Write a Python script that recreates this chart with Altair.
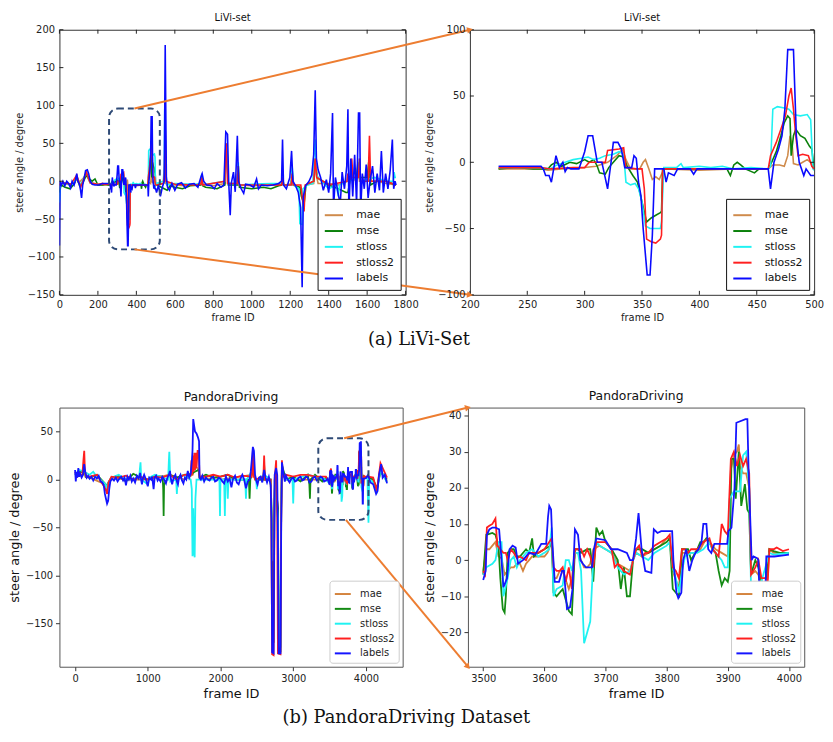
import altair as alt
import pandas as pd

SERIES = ["mae", "mse", "stloss", "stloss2", "labels"]
COLORS_TOP = ["#cf8b4c", "#0a800a", "#1ff2f2", "#ff1f1f", "#0a0aff"]
COLORS_BOT = ["#d4843e", "#138a13", "#1ff2f2", "#ff1f1f", "#1414ff"]
ORANGE = "#ed7d31"
NAVY = "#2e4a76"

# ---------------- LiVi-set, zoomed window (frames 225-500) ----------------
LZ_MAE = [(225,-5),(250,-5),(262,-5),(268,-6),(280,-5),(300,-4),(310,-3),(320,0),(328,5),(333,10),(336,2),(340,-5),(348,-5),(351,0),(353,2),(356,-5),(359,-13),(362,-11),(365,-13),(368,-7),(370,-5),(400,-6),(430,-5),(460,-5),(464,-2),(470,-2),(474,-3),(477,5),(479,20),(481,12),(482,-1),(486,-2),(490,0),(494,2),(497,0),(500,-3)]
LZ_MSE = [(225,-5),(240,-4),(255,-5),(268,-5),(271,-2),(275,0),(280,-3),(287,0),(293,-1),(300,2),(304,0),(308,2),(311,-3),(313,-8),(318,-9),(321,-4),(325,0),(330,5),(334,4),(337,-3),(342,-10),(346,-15),(350,-30),(354,-45),(358,-42),(362,-40),(366,-38),(367,-37),(368,-5),(380,-5),(400,-5),(424,-5),(427,-10),(430,-2),(433,0),(436,-2),(440,-5),(448,-8),(452,-5),(460,-5),(463,0),(467,8),(471,20),(474,30),(477,35),(479,33),(480,5),(482,20),(484,25),(488,20),(492,18),(496,12),(498,10),(500,-5)]
LZ_STLOSS = [(225,-4),(260,-4),(270,-5),(276,-2),(283,0),(290,2),(297,3),(303,4),(308,2),(313,3),(318,5),(325,6),(330,8),(334,6),(336,-15),(340,-17),(344,-16),(347,-20),(350,-30),(353,-48),(357,-50),(362,-50),(366,-50),(367,-45),(369,-4),(380,-4),(384,-1),(386,-4),(400,-3),(410,-4),(420,-3),(430,-5),(445,-4),(460,-5),(462,-3),(464,40),(468,42),(474,41),(478,40),(482,36),(488,35),(494,36),(497,32),(499,-5),(500,-6)]
LZ_STLOSS2 = [(225,-4),(262,-4),(270,-5),(290,-4),(300,-4),(304,0),(318,0),(320,9),(330,10),(334,11),(336,-4),(345,-5),(350,-5),(352,-20),(354,-58),(358,-60),(362,-61),(366,-58),(367,-55),(368,-5),(380,-5),(420,-5),(460,-5),(462,5),(467,15),(471,25),(475,35),(478,50),(480,56),(482,40),(484,20),(486,5),(490,6),(495,5),(498,-3),(500,-5)]
LZ_LABELS = [(225,-3),(262,-3),(264,-5),(266,-10),(269,-10),(271,-15),(275,5),(278,-4),(281,0),(283,-7),(285,-4),(288,-5),(295,-5),(297,0),(300,8),(303,20),(307,20),(309,10),(311,0),(315,0),(317,-8),(320,-20),(323,0),(325,15),(329,15),(332,10),(335,-4),(341,-4),(343,5),(345,3),(347,-15),(349,-25),(351,-50),(353,-70),(354.5,-85),(357,-85),(359,-55),(361,-5),(369,-5),(371,-15),(373,-8),(378,-10),(381,-5),(392,-5),(395,-9),(398,-5),(460,-5),(462,-20),(465,0),(469,10),(472,20),(474.5,40),(477,85),(482,85),(484.5,20),(487,0),(491,-10),(493,-5),(497,-10),(500,-10)]

# ---------------- LiVi-set, rest of the sequence ----------------
LP_MAE = [(0,-5),(20,-3),(50,-4),(80,-2),(90,5),(100,-2),(140,8),(160,-2),(200,-5),(224,-5)]
LP_MSE = [(0,-15),(8,-5),(30,-8),(55,-10),(75,-4),(90,5),(105,-6),(120,-3),(140,8),(155,3),(170,0),(185,3),(200,-5),(224,-5)]
LP_STLOSS = [(0,-28),(6,-5),(25,-2),(50,-5),(75,-3),(90,6),(110,-5),(140,12),(160,-2),(200,-4),(224,-4)]
LP_STLOSS2 = [(0,-5),(20,-2),(60,-4),(90,8),(110,-8),(140,12),(160,-2),(200,-4),(224,-3)]
LP_LABELS = [(0,-85),(3,0),(10,-5),(18,0),(28,-6),(38,0),(48,-3),(58,-9),(66,0),(76,-5),(84,2),(90,10),(96,0),(104,-4),(110,-12),(115,-22),(121,-5),(128,3),(136,14),(145,15),(152,10),(160,0),(170,-4),(185,-5),(205,-5),(224,-3)]

LA_MAE = [(505,-3),(540,-3),(546,-2),(550,25),(554,-3),(600,-5),(650,-6),(700,-5),(735,-4),(740,3),(745,-4),(800,-6),(860,-3),(866,30),(872,40),(878,-3),(920,-3),(925,10),(930,-5),(1000,-6),(1100,-5),(1155,-4),(1160,5),(1166,-5),(1205,-4),(1210,5),(1216,-5),(1255,-8),(1265,-25),(1272,-20),(1280,-5),(1322,-3),(1330,20),(1338,5),(1345,-3),(1400,-3),(1450,-5),(1500,0),(1515,5),(1525,0),(1545,5),(1552,20),(1560,0),(1610,0),(1615,10),(1622,0),(1650,0),(1700,-3),(1750,-5)]
LA_MSE = [(505,-5),(530,-8),(560,-12),(575,-6),(600,-8),(640,-10),(680,-6),(735,-5),(740,8),(745,-6),(760,-8),(820,-10),(860,-5),(866,35),(872,40),(878,-5),(925,-5),(930,20),(936,-8),(1000,-10),(1060,-8),(1100,-10),(1140,-6),(1155,-5),(1160,5),(1166,-5),(1205,-4),(1210,15),(1216,-5),(1250,-8),(1258,-20),(1272,-30),(1282,-5),(1322,0),(1330,30),(1340,5),(1400,-5),(1450,-10),(1490,-15),(1500,-15),(1510,0),(1520,5),(1545,5),(1552,25),(1560,5),(1600,5),(1610,30),(1618,-5),(1650,0),(1700,0),(1750,-5)]
LA_STLOSS = [(505,-3),(540,0),(545,20),(548,110),(552,20),(558,-5),(600,-3),(700,-4),(735,-3),(740,10),(745,-5),(860,0),(865,40),(870,50),(876,-3),(925,-3),(930,25),(935,-5),(1000,-4),(1100,-3),(1155,-3),(1160,10),(1166,-5),(1205,-5),(1210,20),(1216,-5),(1245,-10),(1250,-56),(1262,-57),(1266,-10),(1290,-5),(1318,-3),(1322,30),(1330,55),(1336,10),(1345,5),(1400,-10),(1440,-5),(1450,-20),(1456,-5),(1495,0),(1500,10),(1506,0),(1555,5),(1560,30),(1566,0),(1640,5),(1700,0),(1735,0),(1740,12),(1745,5),(1750,5)]
LA_STLOSS2 = [(505,-5),(540,-3),(546,10),(550,70),(554,0),(600,-4),(700,-5),(735,-4),(740,5),(745,-5),(860,0),(864,40),(868,50),(874,-3),(925,-3),(930,20),(935,-5),(1000,-5),(1100,-5),(1155,-5),(1160,5),(1166,-5),(1205,-5),(1210,10),(1216,-5),(1255,-5),(1262,-20),(1272,-40),(1278,-5),(1322,0),(1330,30),(1338,5),(1400,-5),(1495,0),(1500,10),(1506,0),(1515,5),(1520,30),(1526,5),(1555,5),(1560,30),(1566,0),(1605,0),(1612,60),(1618,0),(1700,0),(1750,-5)]
LA_LABELS = [(505,-15),(515,-5),(525,-20),(535,-8),(545,0),(550,180),(556,5),(562,-8),(572,-12),(585,-3),(600,-12),(615,-4),(635,-2),(655,-9),(675,-4),(700,-3),(720,-8),(735,5),(742,10),(750,0),(765,-5),(790,-6),(805,-10),(820,-3),(840,-8),(855,-5),(865,65),(874,62),(880,0),(888,-45),(894,-2),(905,12),(914,-14),(925,60),(931,0),(945,-10),(958,-16),(968,-4),(990,-5),(1010,-8),(1025,3),(1035,-10),(1050,-5),(1080,-6),(1110,-5),(1140,-3),(1155,0),(1160,55),(1165,-5),(1180,-10),(1198,5),(1207,40),(1214,0),(1228,-6),(1242,-15),(1254,-35),(1262,-140),(1268,-20),(1280,-6),(1298,0),(1312,8),(1322,35),(1330,120),(1336,30),(1345,15),(1358,5),(1372,-12),(1388,2),(1400,-15),(1410,10),(1420,90),(1425,-35),(1435,5),(1448,-15),(1460,-30),(1470,12),(1482,-10),(1494,20),(1500,95),(1505,-40),(1515,30),(1525,-20),(1535,35),(1545,-30),(1555,90),(1561,90),(1566,-40),(1575,10),(1585,-10),(1595,22),(1605,-22),(1615,0),(1628,20),(1640,-15),(1652,10),(1664,-12),(1674,40),(1684,-15),(1696,10),(1708,-10),(1720,15),(1731,55),(1738,-10),(1745,0),(1750,-5)]

# ---------------- PandoraDriving, zoomed window (frames 3500-4000) ----------------
PZ_MAE = [(3500,-3),(3505,3),(3510,3),(3515,4),(3520,5),(3525,1),(3530,0.5),(3535,-4),(3540,-3),(3545,-2),(3550,-2),(3555,-1),(3560,-1),(3565,-3),(3570,-1),(3575,0),(3580,1),(3590,1),(3600,1),(3605,2),(3612,5),(3615,-5),(3620,-5),(3625,-3),(3630,-3),(3640,-8),(3645,-5),(3650,2),(3655,2),(3660,0),(3665,-2),(3670,-2),(3675,-1),(3680,3),(3690,4),(3700,3),(3710,2),(3720,-1),(3730,-2),(3740,-3),(3745,0),(3750,2),(3760,1),(3770,2),(3780,3),(3790,4),(3800,6),(3805,6),(3810,-3),(3820,-8),(3825,2),(3835,2),(3845,2),(3855,3),(3865,6),(3870,5),(3875,4),(3880,3),(3890,2),(3900,1),(3905,25),(3910,29),(3915,30),(3918,32),(3920,26),(3925,24),(3930,24),(3935,20),(3938,-4),(3945,-3),(3950,-4),(3958,-10),(3965,-5),(3968,3),(3975,2),(4000,2)]
PZ_MSE = [(3500,-4),(3505,7),(3515,7.5),(3520,7),(3525,4),(3528,-5),(3532,-13.5),(3535,-14.5),(3537,-10),(3540,2),(3545,3),(3550,3),(3555,1),(3560,1),(3570,3),(3575,2),(3580,6),(3583,1),(3590,2),(3600,3),(3610,4),(3612,5),(3615,-9),(3620,-10),(3630,-8),(3640,-14),(3645,-15),(3650,3),(3655,3),(3660,2),(3670,3),(3675,3),(3680,-6),(3685,9),(3690,7),(3695,8),(3700,5),(3710,3),(3720,0),(3725,-8),(3730,-2),(3735,-10),(3740,-10),(3745,0),(3750,3),(3760,3),(3770,2),(3780,3),(3790,4),(3800,5),(3805,6),(3810,-8),(3820,-10),(3825,3),(3835,3),(3840,0),(3850,3),(3855,5),(3860,5),(3865,6),(3870,5),(3875,3),(3880,2),(3885,-3),(3890,-7),(3895,-5),(3900,-6),(3903,-3),(3906,28),(3910,28),(3913,17),(3918,30),(3922,15),(3928,21),(3932,14),(3935,13),(3938,-4),(3945,0),(3950,-2),(3958,-8),(3962,-6),(3968,3),(3975,2.5),(3985,2),(4000,2)]
PZ_STLOSS = [(3500,-4),(3505,-2),(3515,-1),(3520,0),(3525,5),(3530,5),(3533,-10),(3540,-5),(3545,0),(3550,1),(3555,-2),(3560,0),(3570,2),(3580,3),(3590,1),(3600,2),(3608,3),(3612,9),(3615,-10),(3620,-8),(3630,-7),(3635,0),(3640,0),(3645,-3),(3650,2),(3655,2),(3660,-3),(3665,-23),(3670,-20),(3675,-17),(3680,0),(3685,5),(3690,4),(3700,3),(3710,2),(3720,-2),(3730,-4),(3740,-3),(3745,0),(3750,2),(3760,1),(3770,0),(3780,2),(3790,3),(3800,4),(3805,5),(3810,-2),(3815,-5),(3820,-9),(3825,-3),(3830,1),(3840,2),(3850,2),(3860,3),(3870,5),(3875,3),(3880,2),(3890,0),(3895,-2),(3900,-2),(3903,17),(3910,19),(3920,19),(3925,29),(3930,30),(3935,20),(3938,-8),(3945,-10),(3950,-9),(3968,2),(3975,1.5),(4000,2)]
PZ_STLOSS2 = [(3500,-3),(3503,-4),(3506,9),(3510,9.5),(3515,10),(3520,11.5),(3523,4),(3528,3),(3533,2),(3537,2),(3540,0),(3545,3),(3550,2),(3555,0.5),(3560,1),(3570,0),(3575,2),(3580,2),(3590,2),(3600,3),(3606,4.5),(3612,6),(3615,-2),(3620,-3),(3625,-3),(3630,-2),(3635,-6),(3640,-2),(3645,-8),(3650,3),(3660,3),(3665,1),(3670,3),(3675,1),(3680,-2),(3685,5),(3700,5),(3710,3),(3715,-2),(3720,-1),(3730,-3),(3740,-4),(3745,0),(3750,3),(3755,4),(3760,1),(3765,2),(3770,2),(3775,3),(3780,4),(3790,5),(3800,6),(3805,7),(3810,-2),(3815,-3),(3820,-5),(3825,3),(3830,3),(3835,2),(3840,3),(3850,3),(3855,4),(3860,5),(3870,6),(3875,3),(3880,2),(3885,1),(3890,10),(3895,8),(3900,7),(3905,28),(3910,30),(3915,26),(3920,29),(3925,26),(3930,28),(3935,24),(3938,-4),(3945,-2),(3950,0),(3955,-5),(3962,-5),(3965,-7),(3968,3),(3975,3),(3980,3.5),(3990,2.5),(4000,3)]
PZ_LABELS = [(3500,-5.5),(3504,-3),(3506,7),(3510,8.5),(3515,9),(3520,9),(3526,8.5),(3530,0),(3533,-7.5),(3539,-5),(3543,3),(3548,4),(3553,3.5),(3557,-1),(3565,0),(3575,2),(3585,1.5),(3595,4.5),(3603,4.5),(3606,12),(3608,15),(3611,14),(3613,5),(3617,-6),(3624,-6),(3629,-3),(3632,-3),(3637,-13.5),(3642,-13),(3646,-8),(3650,8.5),(3655,7),(3659,0),(3663,-1),(3668,-2),(3673,-2),(3678,-2),(3681,3),(3685,6),(3700,5.5),(3709,3),(3720,3),(3735,2),(3740,0),(3745,0),(3750,6),(3754,13),(3759,3),(3765,-3),(3775,-3.5),(3779,8.5),(3785,7.5),(3791,8),(3809,8),(3811,0),(3816,-9),(3819,-10.5),(3824,-9),(3827,0),(3832,3),(3837,-3),(3842,0),(3847,2),(3852,3),(3857,5),(3860,10),(3865,10),(3868,3),(3873,2),(3878,4.5),(3899,4.5),(3901,8),(3906,9),(3911,20),(3914,38),(3929,39),(3932,39),(3934,25),(3939,0),(3942,1),(3948,0.5),(3950,0),(3955,-25),(3959,-25),(3963,1),(3976,1),(4000,1.5)]

# ---------------- PandoraDriving, rest of the sequence ----------------
PP_MAE = [(0,5),(50,8),(125,8),(135,10),(145,3),(200,2),(420,-5),(440,-10),(460,-3),(500,2),(700,0),(1000,0),(1300,5),(1500,0),(1620,5),(1640,15),(1700,10),(1712,2),(2000,0),(2430,5),(2445,25),(2460,5),(2480,0),(2590,0),(2600,5),(2610,0),(2690,0),(2700,-30),(2710,-160),(2735,-170),(2742,-30),(2750,0),(2790,-30),(2800,-170),(2825,-175),(2835,-30),(2845,10),(2900,0),(3200,0),(3450,0)]
PP_MSE = [(0,5),(50,8),(125,8),(135,10),(145,3),(200,2),(300,5),(420,-5),(440,-8),(460,-3),(500,2),(600,4),(700,-2),(800,6),(900,2),(1000,0),(1100,4),(1205,3),(1212,-10),(1218,-38),(1224,-5),(1300,5),(1400,2),(1500,5),(1600,6),(1640,8),(1700,10),(1712,2),(1800,5),(1900,2),(2000,3),(2100,5),(2200,0),(2390,0),(2400,-20),(2410,0),(2430,5),(2445,20),(2460,5),(2480,0),(2590,0),(2600,15),(2610,0),(2690,0),(2700,-30),(2710,-50),(2720,-180),(2735,-60),(2742,-20),(2750,0),(2790,-30),(2800,-175),(2825,-180),(2835,-30),(2845,15),(2900,0),(3000,3),(3100,-2),(3200,5),(3222,-5),(3230,-20),(3238,0),(3300,5),(3400,-2),(3450,2)]
PP_STLOSS = [(0,5),(60,10),(130,8),(200,5),(250,8),(300,3),(420,-5),(440,-10),(460,-3),(500,2),(600,5),(700,0),(880,2),(890,10),(900,18),(910,0),(1000,-5),(1020,2),(1100,5),(1280,0),(1290,20),(1296,29),(1310,-2),(1390,0),(1400,-15),(1410,0),(1500,5),(1590,0),(1605,-10),(1615,-80),(1625,-30),(1635,-75),(1645,-81),(1655,-20),(1670,0),(1700,0),(1800,0),(1985,0),(1993,-38),(2000,0),(2050,0),(2060,-38),(2068,0),(2090,0),(2100,-20),(2110,0),(2340,0),(2350,-20),(2360,0),(2445,10),(2490,0),(2500,-10),(2510,0),(2600,5),(2690,0),(2700,-30),(2710,-80),(2725,-85),(2740,-60),(2745,0),(2790,-40),(2800,-170),(2825,-175),(2835,-20),(2845,5),(2900,0),(2990,0),(3000,-25),(3010,0),(3200,5),(3450,0)]
PP_STLOSS2 = [(0,8),(30,3),(60,5),(100,5),(115,20),(126,30),(135,10),(150,3),(200,3),(300,5),(420,-10),(440,-15),(460,-3),(500,3),(600,2),(700,4),(800,0),(900,3),(1000,0),(1100,3),(1200,2),(1300,5),(1400,0),(1500,5),(1590,5),(1600,20),(1610,5),(1620,25),(1630,8),(1640,28),(1650,10),(1660,28),(1670,12),(1685,30),(1700,30),(1712,3),(1800,3),(1900,5),(2000,3),(2100,5),(2200,2),(2300,4),(2430,3),(2445,30),(2460,3),(2480,0),(2590,3),(2600,25),(2612,0),(2690,0),(2700,-40),(2710,-182),(2730,-183),(2740,-40),(2745,0),(2765,20),(2780,-40),(2790,-181),(2825,-182),(2835,-40),(2845,20),(2860,3),(2900,5),(3000,3),(3100,5),(3200,5),(3300,3),(3450,3)]
PP_LABELS = [(0,10),(10,-2),(20,8),(30,2),(45,12),(55,3),(70,6),(90,2),(110,5),(125,16),(140,8),(160,2),(180,4),(200,1),(225,3),(250,-1),(275,3),(300,1),(325,4),(350,-2),(375,-3),(395,-6),(410,-15),(425,-20),(440,-25),(455,-22),(470,-10),(485,-2),(510,1),(535,-1),(560,2),(585,-2),(610,1),(635,3),(660,-1),(680,2),(700,-6),(720,3),(740,0),(760,4),(780,-2),(800,1),(825,-3),(850,4),(875,1),(895,7),(910,-1),(920,-5),(935,2),(950,5),(975,0),(1000,-7),(1020,2),(1045,0),(1060,3),(1080,-10),(1095,2),(1115,4),(1135,-1),(1150,1),(1175,-2),(1200,3),(1225,0),(1250,-4),(1270,2),(1290,5),(1305,9),(1320,0),(1335,-5),(1355,2),(1380,5),(1400,-2),(1415,-5),(1430,2),(1450,5),(1470,-1),(1490,-4),(1510,2),(1530,0),(1550,9),(1570,2),(1590,6),(1605,18),(1615,30),(1625,63),(1640,55),(1650,50),(1670,48),(1690,44),(1705,40),(1712,2),(1730,0),(1750,4),(1775,-2),(1800,2),(1825,0),(1850,-1),(1875,2),(1900,3),(1925,-2),(1950,-1),(1975,2),(2000,1),(2025,-2),(2050,-4),(2075,3),(2100,-2),(2125,1),(2150,-8),(2170,0),(2200,4),(2225,-3),(2250,-5),(2275,1),(2300,5),(2325,0),(2350,-9),(2375,-2),(2400,0),(2415,8),(2430,20),(2445,34),(2460,30),(2475,5),(2495,-2),(2510,-5),(2530,2),(2550,3),(2575,-3),(2600,10),(2620,2),(2640,-3),(2665,3),(2690,-6),(2700,-40),(2710,-180),(2730,-181),(2740,-50),(2745,5),(2765,12),(2780,5),(2790,-60),(2800,-181),(2825,-181),(2835,-50),(2845,18),(2860,10),(2870,5),(2885,-2),(2900,4),(2925,0),(2950,-3),(2975,1),(3000,2),(3025,-2),(3050,-1),(3075,2),(3100,3),(3125,-1),(3150,0),(3175,3),(3200,2),(3225,-3),(3250,-2),(3275,2),(3300,3),(3325,-1),(3350,0),(3375,3),(3400,2),(3425,-2),(3450,-1),(3475,1)]
PA_MAE = [(4030,2),(4100,0),(4150,-10),(4200,10),(4290,-2)]
PA_MSE = [(4030,3),(4100,0),(4150,-10),(4200,8),(4290,0)]
PA_STLOSS = [(4020,2),(4035,-45),(4045,0),(4100,-3),(4150,-12),(4200,10),(4290,-3)]
PA_STLOSS2 = [(4030,3),(4100,2),(4150,-12),(4200,17),(4290,2)]
PA_LABELS = [(4030,5),(4060,-3),(4100,-5),(4140,-15),(4160,-12),(4180,5),(4210,16),(4230,2),(4260,5),(4290,-4)]

# axis ticks
LIVI_FULL_XT = [0, 200, 400, 600, 800, 1000, 1200, 1400, 1600, 1800]
LIVI_FULL_YT = [-150, -100, -50, 0, 50, 100, 150, 200]
LIVI_ZOOM_XT = [200, 250, 300, 350, 400, 450, 500]
LIVI_ZOOM_YT = [-100, -50, 0, 50, 100]
PAN_FULL_XT = [0, 1000, 2000, 3000, 4000]
PAN_FULL_YT = [-150, -100, -50, 0, 50]
PAN_ZOOM_XT = [3500, 3600, 3700, 3800, 3900, 4000]
PAN_ZOOM_YT = [-20, -10, 0, 10, 20, 30, 40]

# zoom boxes drawn in the overview panels
LIVI_BOX = {"frame": [258], "x2": [522], "angle": [-90], "y2": [96]}
LIVI_LINK = {"frame": [390, 390], "angle": [96, -90]}
PAN_BOX = {"frame": [3345], "x2": [4035], "angle": [-42], "y2": [43]}
PAN_LINK = {"frame": [3700, 3725], "angle": [43, -42]}


def frame(parts):
    rows = []
    for s in SERIES:
        for x, y in parts[s]:
            rows.append({"frame": x, "angle": y, "series": s})
    return pd.DataFrame(rows)


livi_zoom = frame({"mae": LZ_MAE, "mse": LZ_MSE, "stloss": LZ_STLOSS, "stloss2": LZ_STLOSS2, "labels": LZ_LABELS})
livi_full = frame({"mae": LP_MAE + LZ_MAE + LA_MAE, "mse": LP_MSE + LZ_MSE + LA_MSE,
                   "stloss": LP_STLOSS + LZ_STLOSS + LA_STLOSS, "stloss2": LP_STLOSS2 + LZ_STLOSS2 + LA_STLOSS2,
                   "labels": LP_LABELS + LZ_LABELS + LA_LABELS})
pan_zoom = frame({"mae": PZ_MAE, "mse": PZ_MSE, "stloss": PZ_STLOSS, "stloss2": PZ_STLOSS2, "labels": PZ_LABELS})
pan_full = frame({"mae": PP_MAE + PZ_MAE + PA_MAE, "mse": PP_MSE + PZ_MSE + PA_MSE,
                  "stloss": PP_STLOSS + PZ_STLOSS + PA_STLOSS, "stloss2": PP_STLOSS2 + PZ_STLOSS2 + PA_STLOSS2,
                  "labels": PP_LABELS + PZ_LABELS + PA_LABELS})

TL_W, TL_H, S1, TR_W = 350, 268, 65, 348
BL_W, BL_H, S2, BR_W = 347, 262, 66, 340


def panel(df, xdom, ydom, xt, yt, W, H, colors, top):
    if top:
        ax = dict(labelFontSize=10, titleFontSize=10, ticks=False, domain=False, grid=False,
                  labelPadding=5, titlePadding=3, labelColor="#222", titleColor="#222",
                  titleFontWeight="normal", labelFlush=False, labelOverlap=False, format="d")
        leg = alt.Legend(orient="bottom-right", title=None, offset=5, symbolType="stroke",
                         symbolSize=340, symbolStrokeWidth=2, labelFontSize=11, labelColor="#111",
                         strokeColor="#111", fillColor="#ffffff", padding=6, rowPadding=0,
                         labelOffset=12, cornerRadius=0)
        sw = 1.6
        tfs = 10
    else:
        ax = dict(labelFontSize=10, titleFontSize=13, ticks=True, tickSize=4, tickColor="#333",
                  domain=False, grid=False, labelPadding=3, titlePadding=4, labelColor="#222",
                  titleColor="#111", titleFontWeight="normal", labelFlush=False,
                  labelOverlap=False, format="d")
        leg = alt.Legend(orient="bottom-right", title=None, offset=4, symbolType="stroke",
                         symbolSize=260, symbolStrokeWidth=2, labelFontSize=10, labelColor="#222",
                         strokeColor="#cccccc", fillColor="#ffffff", padding=4, rowPadding=0,
                         labelOffset=8, cornerRadius=3)
        sw = 1.8
        tfs = 12.5
    xs = alt.Scale(domain=xdom, nice=False, zero=False)
    ys = alt.Scale(domain=ydom, nice=False, zero=False)
    xe = alt.X("frame:Q", scale=xs, axis=alt.Axis(values=xt, title="frame ID", **ax))
    ye = alt.Y("angle:Q", scale=ys, axis=alt.Axis(values=yt, title="steer angle / degree", **ax))
    ce = alt.Color("series:N", scale=alt.Scale(domain=SERIES, range=colors), legend=leg)
    layers = []
    for s in SERIES:
        layers.append(alt.Chart(df[df["series"] == s]).mark_line(strokeWidth=sw, clip=True)
                      .encode(x=xe, y=ye, color=ce))
    if top:
        tx = pd.DataFrame({"frame": xt})
        ty = pd.DataFrame({"angle": yt})
        rc = dict(color="#222", strokeWidth=1)
        layers += [
            alt.Chart(tx).mark_rule(**rc).encode(x=xe, y=alt.value(H), y2=alt.value(H - 4)),
            alt.Chart(tx).mark_rule(**rc).encode(x=xe, y=alt.value(0), y2=alt.value(4)),
            alt.Chart(ty).mark_rule(**rc).encode(y=ye, x=alt.value(0), x2=alt.value(4)),
            alt.Chart(ty).mark_rule(**rc).encode(y=ye, x=alt.value(W), x2=alt.value(W - 4)),
        ]
    return layers, xe, ye, tfs


def finish(layers, title, W, H, tfs, top):
    return alt.layer(*layers).properties(
        width=W, height=H,
        title=alt.TitleParams(title, fontSize=tfs, fontWeight="normal", offset=2 if top else 3,
                              color="#111"),
        view=alt.ViewBackground(stroke="#333" if top else "#555", strokeWidth=1),
    )


def overview_extras(box, link, xe, ye, W, S, H):
    bx = pd.DataFrame(box)
    rect = alt.Chart(bx).mark_rect(filled=False, color=NAVY, strokeWidth=2, strokeDash=[6, 4],
                                   cornerRadius=9).encode(x=xe, x2="x2:Q", y=ye, y2="y2:Q")
    lk = pd.DataFrame(link)
    r1 = alt.Chart(lk.iloc[[0]]).mark_rule(color=ORANGE, strokeWidth=2).encode(
        x=xe, y=ye, x2=alt.value(W + S), y2=alt.value(0))
    r2 = alt.Chart(lk.iloc[[1]]).mark_rule(color=ORANGE, strokeWidth=2).encode(
        x=xe, y=ye, x2=alt.value(W + S), y2=alt.value(H))
    return [rect, r1, r2]


def arrow_heads(xdom, ydom, xe, ye, a_top, a_bot):
    top_c = pd.DataFrame({"frame": [xdom[0]], "angle": [ydom[1]]})
    bot_c = pd.DataFrame({"frame": [xdom[0]], "angle": [ydom[0]]})
    p1 = alt.Chart(top_c).mark_point(shape="triangle-right", filled=True, size=45, color=ORANGE,
                                     opacity=1, angle=a_top).encode(x=xe, y=ye)
    p2 = alt.Chart(bot_c).mark_point(shape="triangle-right", filled=True, size=45, color=ORANGE,
                                     opacity=1, angle=a_bot).encode(x=xe, y=ye)
    return [p1, p2]


# top-left
lay, xe, ye, tfs = panel(livi_full, [0, 1800], [-150, 200], LIVI_FULL_XT, LIVI_FULL_YT,
                         TL_W, TL_H, COLORS_TOP, True)
lay += overview_extras(LIVI_BOX, LIVI_LINK, xe, ye, TL_W, S1, TL_H)
tl = finish(lay, "LiVi-set", TL_W, TL_H, tfs, True)

# top-right
lay, xe, ye, tfs = panel(livi_zoom, [200, 500], [-100, 100], LIVI_ZOOM_XT, LIVI_ZOOM_YT,
                         TR_W, TL_H, COLORS_TOP, True)
lay += arrow_heads([200, 500], [-100, 100], xe, ye, 347, 8)
tr = finish(lay, "LiVi-set", TR_W, TL_H, tfs, True)

# bottom-left
lay, xe, ye, tfs = panel(pan_full, [-215, 4505], [-195, 75], PAN_FULL_XT, PAN_FULL_YT,
                         BL_W, BL_H, COLORS_BOT, False)
lay += overview_extras(PAN_BOX, PAN_LINK, xe, ye, BL_W, S2, BL_H)
bl = finish(lay, "PandoraDriving", BL_W, BL_H, tfs, False)

# bottom-right
lay, xe, ye, tfs = panel(pan_zoom, [3475, 4025], [-29.5, 42.2], PAN_ZOOM_XT, PAN_ZOOM_YT,
                         BR_W, BL_H, COLORS_BOT, False)
lay += arrow_heads([3475, 4025], [-29.5, 42.2], xe, ye, 346, 50)
br = finish(lay, "PandoraDriving", BR_W, BL_H, tfs, False)

cap = dict(orient="bottom", anchor="middle", font="DejaVu Serif", fontSize=18, fontWeight="normal",
           color="#111", offset=8)
row1 = alt.hconcat(tl, tr, spacing=S1, bounds="flush",
                   title=alt.TitleParams("(a) LiVi-Set", **cap)).resolve_scale(color="independent").resolve_legend(color="independent")
row2 = alt.hconcat(bl, br, spacing=S2, bounds="flush",
                   title=alt.TitleParams("(b) PandoraDriving Dataset", **cap)).resolve_scale(color="independent").resolve_legend(color="independent")

chart = alt.vconcat(row1, row2, spacing=40).resolve_scale(color="independent").resolve_legend(
    color="independent").properties(padding=0, background="#ffffff").configure(font="DejaVu Sans")

chart.save("out.html", embed_options={"renderer": "svg", "actions": False})
